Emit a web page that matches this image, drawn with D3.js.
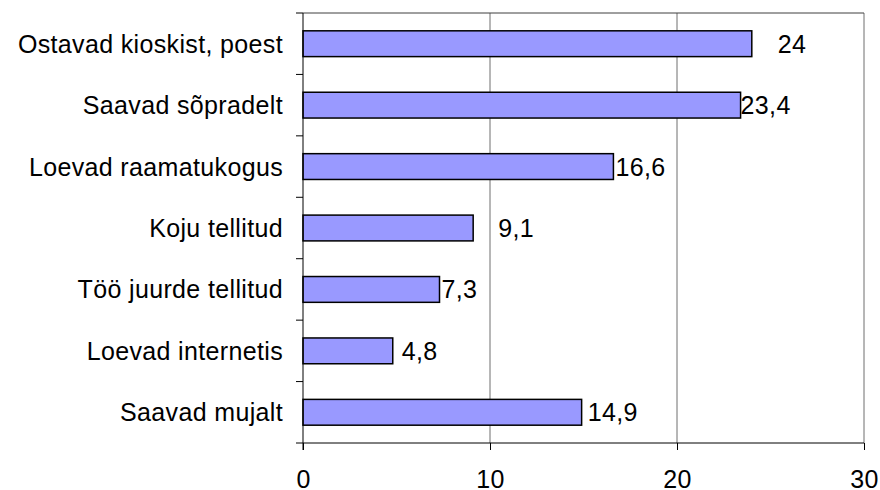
<!DOCTYPE html>
<html>
<head>
<meta charset="utf-8">
<script src="https://cdn.jsdelivr.net/npm/d3@7"></script>
<style>
  body { margin: 0; background: #fff; }
  text { font-family: "Liberation Sans", Arial, sans-serif; letter-spacing: 0.35px; }
</style>
</head>
<body>
<div id="chart"></div>
<script>
// categories and values, top to bottom
const categories = [
    "Ostavad kioskist, poest",
    "Saavad sõpradelt",
    "Loevad raamatukogus",
    "Koju tellitud",
    "Töö juurde tellitud",
    "Loevad internetis",
    "Saavad mujalt"
];
const values = [24, 23.4, 16.6, 9.1, 7.3, 4.8, 14.9];
const xTicks = [0, 10, 20, 30];

// label nudges (px) to mimic where the original placed each value label
const labelNudge = [26, 0, 2, 25, 2, 9, 6];

const width = 880, height = 490;
const margin = { top: 13, right: 16, bottom: 47, left: 303 };
const fontSize = 25;

const svg = d3.select("#chart").append("svg")
    .attr("width", width)
    .attr("height", height);

const x = d3.scaleLinear()
    .domain([0, 30])
    .range([margin.left, width - margin.right]);

const y = d3.scaleBand()
    .domain(categories)
    .range([margin.top, height - margin.bottom])
    .paddingInner(0.58)
    .paddingOuter(0.29);

const yEdges = d3.scaleLinear()
    .domain([0, categories.length])
    .range([margin.top, height - margin.bottom]);

// vertical gridlines
svg.append("g")
    .selectAll("line")
    .data(xTicks.slice(1))
    .join("line")
    .attr("x1", d => x(d)).attr("x2", d => x(d))
    .attr("y1", margin.top).attr("y2", height - margin.bottom)
    .attr("stroke", "#6f6f6f")
    .attr("stroke-width", 1);

// top border
svg.append("line")
    .attr("x1", x(0)).attr("x2", x(30))
    .attr("y1", margin.top).attr("y2", margin.top)
    .attr("stroke", "#3f3f3f");

// bars
svg.append("g")
    .selectAll("rect")
    .data(values)
    .join("rect")
    .attr("x", x(0))
    .attr("y", (d, i) => y(categories[i]))
    .attr("width", d => x(d) - x(0))
    .attr("height", y.bandwidth())
    .attr("fill", "#9999ff")
    .attr("stroke", "#000")
    .attr("stroke-width", 1.5);

// value labels
svg.append("g")
    .selectAll("text")
    .data(values)
    .join("text")
    .attr("x", (d, i) => x(d) + labelNudge[i])
    .attr("y", (d, i) => y(categories[i]) + y.bandwidth() / 2)
    .attr("dy", "0.36em")
    .attr("font-size", fontSize)
    .text(d => String(d).replace(".", ","));

// bottom axis
const xAxis = svg.append("g")
    .attr("transform", `translate(0,${height - margin.bottom})`)
    .call(d3.axisBottom(x).tickValues(xTicks).tickSize(7).tickPadding(20));
xAxis.select(".domain").attr("stroke", "#000").attr("d", `M${x(0)},0H${x(30)}`);
xAxis.selectAll(".tick line").attr("stroke", "#000");
xAxis.selectAll("text")
    .attr("font-size", fontSize)
    .attr("font-family", "Liberation Sans, Arial, sans-serif")
    .attr("fill", "#000");

// left axis with category labels centred in bands, ticks on band edges
const yAxis = svg.append("g");
yAxis.append("line")
    .attr("x1", x(0)).attr("x2", x(0))
    .attr("y1", margin.top).attr("y2", height - margin.bottom + 7)
    .attr("stroke", "#000");
yAxis.selectAll("line.tick")
    .data(d3.range(categories.length + 1))
    .join("line")
    .attr("class", "tick")
    .attr("x1", x(0) - 7).attr("x2", x(0))
    .attr("y1", d => yEdges(d)).attr("y2", d => yEdges(d))
    .attr("stroke", "#000");
yAxis.selectAll("text")
    .data(categories)
    .join("text")
    .attr("x", x(0) - 20)
    .attr("y", d => y(d) + y.bandwidth() / 2)
    .attr("dy", "0.36em")
    .attr("text-anchor", "end")
    .attr("font-size", fontSize)
    .text(d => d);
</script>
</body>
</html>
